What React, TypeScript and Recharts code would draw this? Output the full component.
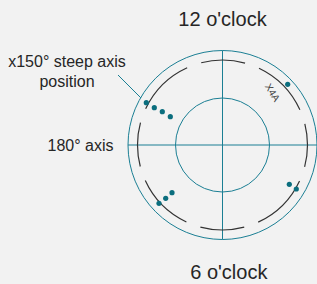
import { ScatterChart, Scatter, XAxis, YAxis, ReferenceLine, ReferenceDot } from 'recharts';

// marker positions, in px relative to the centre of the lens (y up)
const markX = [-76.2, -68.2, -60.2, -52.2, 65.2, -50.5, -56.8, -63.5, 66.8, 73.8];
const markY = [42.3, 37.3, 33.3, 28.3, 60.7, -47.7, -53.3, -58.3, -39.3, -44];

// dashed ring: arc lengths in degrees, going clockwise from 3 o'clock, gap between arcs
const ringArcs = [15, 40, 30, 40, 30, 40, 30, 40, 15];
const ringGap = 10;

const outerR = 94.5;
const innerR = 47;
const ringR = 85;

const marks = markX.map((x, i) => ({ x, y: markY[i] }));

const teal = '#1b7f94';
const textColor = '#262626';
const font = '"Liberation Sans", Arial, sans-serif';

const degToPx = (2 * Math.PI * ringR) / 360;
const ringDash = ringArcs
    .map((a, i) => `${a * degToPx} ${(i === ringArcs.length - 1 ? 0 : ringGap) * degToPx}`)
    .join(' ');

export default function App() {
    return (
        <div style={{ position: 'fixed', left: 0, top: 0, width: 317, height: 284, background: '#f2f2f2' }}>
            <ScatterChart width={317} height={284} margin={{ top: 0, right: 0, bottom: 0, left: 0 }}>
                <XAxis type="number" dataKey="x" domain={[-222.5, 94.5]} hide />
                <YAxis type="number" dataKey="y" domain={[-139, 145]} hide />
                <ReferenceDot x={0} y={0} r={outerR} fill="none" stroke={teal} strokeWidth={1} />
                <ReferenceDot x={0} y={0} r={innerR} fill="none" stroke={teal} strokeWidth={1} />
                <ReferenceDot
                    x={0}
                    y={0}
                    r={ringR}
                    fill="none"
                    stroke="#333"
                    strokeWidth={1.2}
                    strokeDasharray={ringDash}
                />
                <ReferenceLine segment={[{ x: 0, y: outerR }, { x: 0, y: -outerR }]} stroke={teal} />
                <ReferenceLine segment={[{ x: -outerR, y: 0 }, { x: outerR, y: 0 }]} stroke={teal} />
                <ReferenceLine segment={[{ x: -104.5, y: 70 }, { x: -81.5, y: 47 }]} stroke={teal} />
                <Scatter
                    data={marks}
                    isAnimationActive={false}
                    shape={(p: any) => <circle cx={p.cx} cy={p.cy} r={2.6} fill="#0b6e7e" />}
                />
                <text x={222.5} y={26} textAnchor="middle" fontSize={20} fontFamily={font} fill={textColor}>
                    12 o'clock
                </text>
                <text x={228.8} y={279} textAnchor="middle" fontSize={20} fontFamily={font} fill={textColor}>
                    6 o'clock
                </text>
                <text x={67} y={67} textAnchor="middle" fontSize={16} fontFamily={font} fill={textColor}>
                    x150° steep axis
                </text>
                <text x={67} y={87} textAnchor="middle" fontSize={16} fontFamily={font} fill={textColor}>
                    position
                </text>
                <text x={113.5} y={151} textAnchor="end" fontSize={16} fontFamily={font} fill={textColor}>
                    180° axis
                </text>
                <text
                    x={272.5}
                    y={92.5}
                    textAnchor="middle"
                    dominantBaseline="central"
                    fontSize={10}
                    fontFamily={font}
                    fill="#444"
                    transform="rotate(58 272.5 92.5)"
                >
                    X4A
                </text>
            </ScatterChart>
        </div>
    );
}
